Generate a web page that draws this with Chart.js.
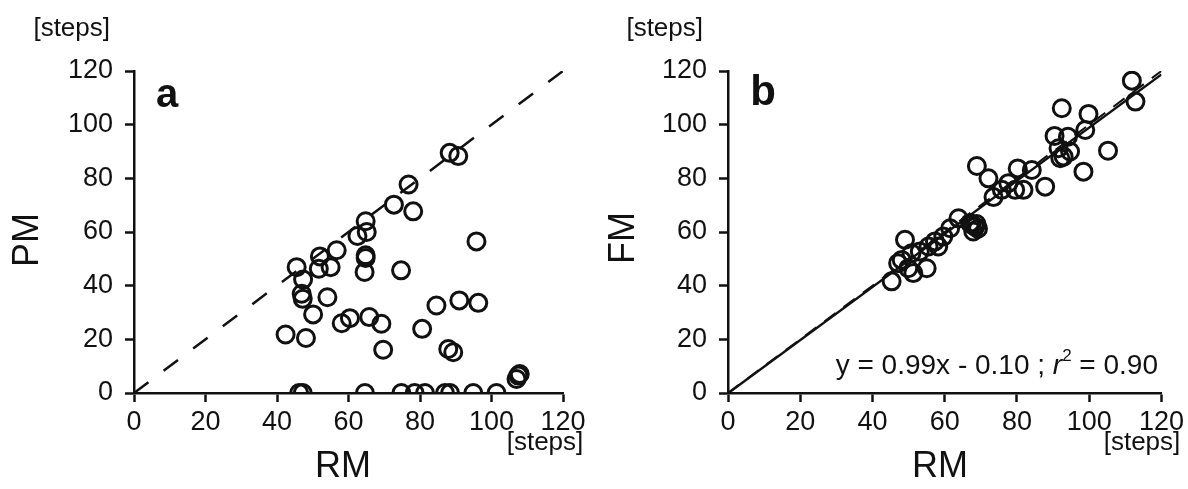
<!DOCTYPE html>
<html>
<head>
<meta charset="utf-8">
<script src="https://cdn.jsdelivr.net/npm/chart.js@4"></script>
<style>
  body { margin: 0; background: #fff; }
  .panel { position: absolute; top: 0; width: 594px; height: 489px; }
</style>
</head>
<body>
<div class="panel" style="left:0"><canvas id="panelA" width="594" height="489"></canvas></div>
<div class="panel" style="left:594px"><canvas id="panelB" width="594" height="489"></canvas></div>
<script>
// panel a: RM vs PM
var rmA = [88.3, 90.7, 76.8, 72.7, 78.1, 64.8, 65.1, 62.5, 64.8, 64.8, 64.5, 56.7, 52.0, 51.7, 55.0, 45.5,
  47.3, 46.9, 47.2, 54.1, 50.1, 42.4, 48.1, 58.1, 60.4, 65.8, 69.2, 69.7, 74.7, 95.8, 80.6, 84.6, 91.0, 96.3,
  87.9, 89.3, 107.5, 107.9, 107.0,
  46.2, 47.2, 64.6, 74.8, 78.5, 81.4, 87.0, 88.4, 94.9, 101.4];
var pmA = [89.5, 88.3, 77.7, 70.2, 67.7, 64.0, 60.0, 58.5, 51.3, 50.3, 45.1, 53.2, 50.9, 46.3, 46.9, 46.9,
  42.3, 37.0, 35.1, 35.7, 29.3, 21.8, 20.5, 26.0, 27.9, 28.3, 25.8, 16.1, 45.7, 56.5, 23.9, 32.6, 34.5, 33.6,
  16.4, 15.2, 6.5, 7.1, 5.2,
  0, 0, 0, 0, 0, 0, 0, 0, 0, 0];

// panel b: RM vs FM
var rmB = [111.8, 112.8, 92.4, 99.8, 98.9, 105.2, 98.4, 90.4, 94.1, 91.5, 94.7, 92.0, 87.8, 84.1, 80.2, 81.8,
  77.6, 75.8, 73.5, 68.9, 72.1, 68.4, 67.9, 63.8, 61.5, 59.6, 57.3, 55.5, 53.1, 49.0, 50.8, 48.1, 49.9, 51.3,
  55.0, 45.3, 47.1, 79.5, 67.0, 92.9, 58.2, 68.8, 69.2, 67.5];
var fmB = [116.4, 108.6, 106.1, 104.0, 98.0, 90.3, 82.5, 95.8, 95.5, 91.2, 90.0, 87.5, 76.9, 83.1, 83.7, 75.7,
  78.2, 75.7, 73.0, 84.6, 80.0, 62.0, 60.2, 65.1, 61.4, 58.3, 56.5, 54.6, 52.7, 57.1, 52.1, 49.6, 46.5, 44.7,
  46.5, 41.6, 48.4, 75.7, 63.3, 88.1, 54.6, 63.0, 61.2, 62.8];

// identity line and fitted line (y = 0.99x - 0.10) end points
var lineX = [0, 120];
var identityY = [0, 120];
var fitY = [-0.1, 118.7];

var axisTicks = [0, 20, 40, 60, 80, 100, 120];

function pts(xs, ys) {
  return xs.map(function (x, i) { return { x: x, y: ys[i] }; });
}

var FONT = "'Liberation Sans', Arial, sans-serif";

function textPlugin(items) {
  return {
    id: 'texts',
    afterDraw: function (chart) {
      var ctx = chart.ctx;
      ctx.save();
      ctx.fillStyle = '#111';
      items.forEach(function (t) {
        ctx.save();
        ctx.font = t.font;
        ctx.textAlign = t.align || 'center';
        ctx.textBaseline = 'middle';
        ctx.translate(t.x, t.y);
        if (t.rotate) ctx.rotate(t.rotate);
        ctx.fillText(t.text, 0, 0);
        ctx.restore();
      });
      if (chart.canvas.id === 'panelB') {
        // equation with superscript
        var right = 564, y = 366;
        ctx.textBaseline = 'middle';
        ctx.textAlign = 'left';
        var f = '28px ' + FONT, fi = 'italic 28px ' + FONT, fs = '17px ' + FONT;
        var parts = [['y = 0.99x - 0.10 ; ', f, 0], ['r', fi, 0], ['2', fs, -10], [' = 0.90', f, 0]];
        var w = 0;
        parts.forEach(function (p) { ctx.font = p[1]; w += ctx.measureText(p[0]).width; });
        var x = right - w;
        parts.forEach(function (p) {
          ctx.font = p[1];
          ctx.fillText(p[0], x, y + p[2]);
          x += ctx.measureText(p[0]).width;
        });
      }
      ctx.restore();
    }
  };
}

function scatterSet(data) {
  return {
    type: 'scatter',
    data: data,
    pointStyle: 'circle',
    pointRadius: 8.5,
    pointBorderWidth: 3,
    borderColor: '#111',
    backgroundColor: 'rgba(0,0,0,0)',
    order: 0
  };
}

function lineSet(data, dash, width) {
  return {
    type: 'line',
    data: data,
    borderColor: '#111',
    borderWidth: width,
    borderDash: dash,
    pointRadius: 0,
    fill: false,
    order: 1
  };
}

function axis(fitSize, isX) {
  return {
    type: 'linear',
    min: 0,
    max: 120,
    afterBuildTicks: function (s) { s.ticks = axisTicks.map(function (v) { return { value: v }; }); },
    afterFit: function (s) {
      if (isX) s.height = fitSize; else s.width = fitSize;
    },
    border: { display: true, color: '#111', width: 2.5 },
    grid: { display: true, drawOnChartArea: false, drawTicks: true, tickLength: 9, tickWidth: 2.5, tickColor: '#111' },
    ticks: { color: '#111', font: { family: FONT, size: 27 }, padding: isX ? 4 : 12, maxRotation: 0 }
  };
}

function makeChart(id, datasets, padRight, texts) {
  return new Chart(document.getElementById(id), {
    type: 'scatter',
    data: { datasets: datasets },
    options: {
      responsive: false,
      animation: false,
      layout: { padding: { top: 71, right: padRight, left: 0, bottom: 0 } },
      plugins: { legend: { display: false }, tooltip: { enabled: false } },
      scales: { x: axis(96, true), y: axis(134, false) }
    },
    plugins: [textPlugin(texts)]
  });
}

makeChart('panelA', [
  scatterSet(pts(rmA, pmA)),
  lineSet(pts(lineX, identityY), [18, 19], 2.5)
], 31, [
  { text: '[steps]', x: 110, y: 29, font: '26px ' + FONT, align: 'right' },
  { text: 'PM', x: 28, y: 240, font: '36px ' + FONT, rotate: -Math.PI / 2 },
  { text: 'RM', x: 343, y: 467, font: '36px ' + FONT },
  { text: '[steps]', x: 545, y: 443, font: '26px ' + FONT },
  { text: 'a', x: 167, y: 96, font: 'bold 40px ' + FONT }
]);

makeChart('panelB', [
  scatterSet(pts(rmB, fmB)),
  lineSet(pts(lineX, identityY), [14, 10], 2),
  lineSet(pts(lineX, fitY), [], 2.4)
], 25, [
  { text: '[steps]', x: 109, y: 29, font: '26px ' + FONT, align: 'right' },
  { text: 'FM', x: 30, y: 238, font: '36px ' + FONT, rotate: -Math.PI / 2 },
  { text: 'RM', x: 346, y: 467, font: '36px ' + FONT },
  { text: '[steps]', x: 548, y: 443, font: '26px ' + FONT },
  { text: 'b', x: 169, y: 93, font: 'bold 42px ' + FONT }
]);
</script>
</body>
</html>
